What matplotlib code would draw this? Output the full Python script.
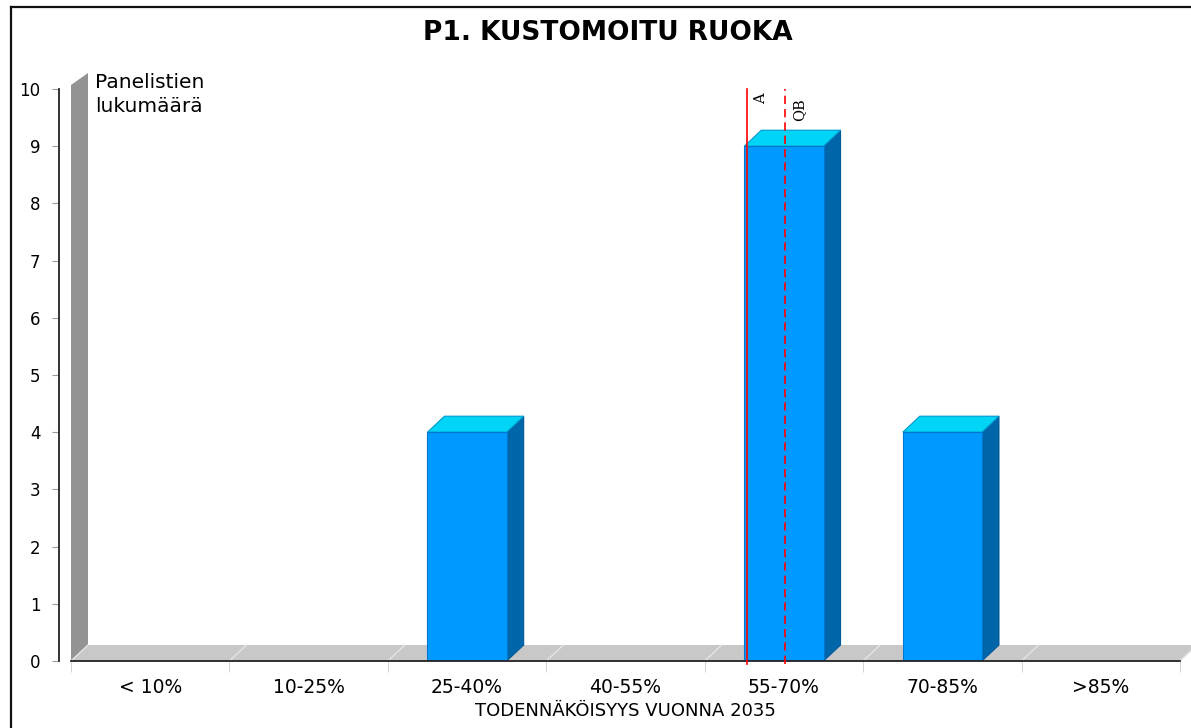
import numpy as np
import matplotlib
matplotlib.use("Agg")
import matplotlib.pyplot as plt
from matplotlib.patches import Polygon, Rectangle
from matplotlib.lines import Line2D

# ---------- data ----------
categories = ["< 10%", "10-25%", "25-40%", "40-55%", "55-70%", "70-85%", ">85%"]
counts = [0, 0, 4, 0, 9, 4, 0]
y_ticks = list(range(0, 11))
marker_names = ["A", "QB"]
marker_pos = [3.765, 4.005]          # position on the category axis
title = "P1. KUSTOMOITU RUOKA"
x_title = "TODENNÄKÖISYYS VUONNA 2035"
y_title = "Panelistien\nlukumäärä"

# ---------- figure ----------
W, H = 1191, 728
fig = plt.figure(figsize=(W / 100, H / 100), dpi=100)
L, R, B, T = 71, 1180, 661, 89          # plot box in pixels
ax = fig.add_axes([L / W, (H - B) / H, (R - L) / W, (B - T) / H])
n = len(categories)
ax.set_xlim(-0.5, n - 0.5)
ax.set_ylim(0, 10)

# pixel -> data scale for the fake 3d depth
px_x = n / (R - L)
px_y = 10 / (B - T)
dx, dy = 17 * px_x, 16 * px_y

# back wall + floor
wall = Polygon([(-0.5, 0), (-0.5, 10.07), (-0.5 + dx, 10.07 + 12 * px_y),
                (-0.5 + dx, dy)], closed=True, fc="#939393", ec="none",
               clip_on=False, zorder=1)
ax.add_patch(wall)
floor = Polygon([(-0.5, 0), (n - 0.5, 0), (n - 0.5 + dx, dy), (-0.5 + dx, dy)],
                closed=True, fc="#c8c8c8", ec="none", clip_on=False, zorder=1)
ax.add_patch(floor)
for b in np.arange(-0.5, n, 1.0):
    ax.add_line(Line2D([b, b + dx], [0, dy], color="#e4e4e4", lw=1,
                       clip_on=False, zorder=1.5))

# 3d bars
bw = 0.5
for i, v in enumerate(counts):
    if v <= 0:
        continue
    x0, x1 = i - bw / 2, i + bw / 2
    ax.add_patch(Polygon([(x1, 0), (x1 + dx, dy), (x1 + dx, v + dy), (x1, v)],
                         closed=True, fc="#0066aa", ec="#005a99", lw=0.8,
                         zorder=3))
    ax.add_patch(Polygon([(x0, v), (x1, v), (x1 + dx, v + dy), (x0 + dx, v + dy)],
                         closed=True, fc="#00d4f7", ec="#0099cc", lw=0.8,
                         zorder=3))
    ax.add_patch(Rectangle((x0, 0), bw, v, fc="#0099ff", ec="#0077cc",
                           lw=0.8, zorder=4))

# reference lines
styles = ["-", (0, (5, 3))]
label_y = [9.93, 9.84]
for name, xp, ls, ly in zip(marker_names, marker_pos, styles, label_y):
    ax.plot([xp, xp], [-0.05, 10], color="red", lw=1.2, ls=ls, zorder=6,
            clip_on=False)
    ax.text(xp + 0.09, ly, name, rotation=90, ha="center", va="top",
            fontsize=10.5, family="DejaVu Serif", zorder=6)

# axes styling
for s in ["top", "right"]:
    ax.spines[s].set_visible(False)
ax.spines["left"].set_position(("outward", 9))
ax.spines["left"].set_color("#222222")
ax.spines["left"].set_linewidth(1.3)
ax.spines["bottom"].set_color("#222222")
ax.spines["bottom"].set_linewidth(1.3)
ax.spines["bottom"].set_zorder(5)
ax.set_yticks(y_ticks)
ax.tick_params(axis="y", length=5, color="#999999", labelsize=12, pad=8)
ax.set_xticks(range(n))
ax.set_xticklabels(categories)
ax.set_xticks(np.arange(-0.5, n, 1.0), minor=True)
ax.tick_params(axis="x", which="major", length=0, labelsize=13.5, pad=12)
ax.tick_params(axis="x", which="minor", length=8, color="#cccccc")
ax.set_xlabel(x_title, fontsize=13, labelpad=4)
ax.patch.set_visible(False)

fig.text(95 / W, 1 - 73 / H, y_title, ha="left", va="top", fontsize=14.5,
         linespacing=1.3)
fig.text(608 / W, 1 - 33 / H, title, ha="center", va="center",
         fontsize=19, fontweight="bold")

# outer frame (top and left edges)
fig.add_artist(Line2D([11 / W, 11 / W], [0, 1 - 6.5 / H], color="#111111",
                      lw=1.6, transform=fig.transFigure))
fig.add_artist(Line2D([11 / W, 1], [1 - 6.5 / H, 1 - 6.5 / H], color="#111111",
                      lw=1.6, transform=fig.transFigure))

fig.savefig("out.png", dpi=100)
